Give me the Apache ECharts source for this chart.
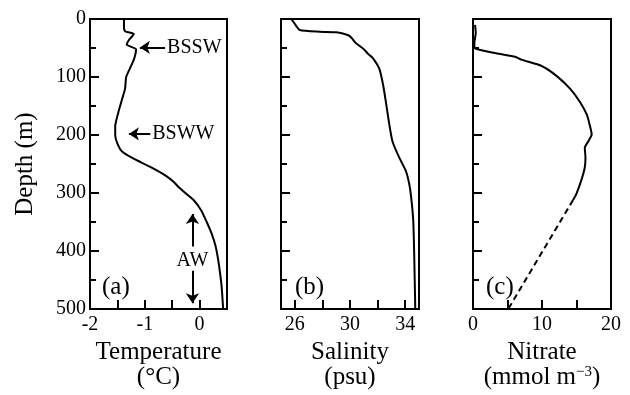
<!DOCTYPE html>
<html>
<head>
<meta charset="utf-8">
<script src="https://cdn.jsdelivr.net/npm/echarts@6/dist/echarts.min.js"></script>
<style>
  body { margin: 0; background: #fff; }
  #profiles { width: 630px; height: 395px; }
</style>
</head>
<body>
<div id="profiles"></div>
<script>
// temperature profile (°C vs depth m)
let temp_depth = [0, 13, 21, 26, 35, 44, 52, 60, 70, 85, 100, 120, 140, 160, 185, 200, 215, 228, 240, 255, 270, 281, 290, 300, 312, 330, 352, 370, 391, 410, 425, 459, 500];
let temp_vals  = [-1.38, -1.38, -1.36, -1.20, -1.28, -1.33, -1.16, -1.17, -1.20, -1.27, -1.34, -1.36, -1.42, -1.48, -1.54, -1.54, -1.50, -1.42, -1.22, -0.90, -0.62, -0.47, -0.38, -0.26, -0.11, 0.03, 0.14, 0.22, 0.29, 0.33, 0.355, 0.40, 0.43];

// salinity profile (psu)
let sal_depth = [0, 10, 19, 22, 23, 26, 29, 35, 41, 52, 61, 67, 86, 115, 143, 182, 211, 239, 262, 284, 305, 346, 403, 500];
let sal_vals  = [25.75, 26.05, 26.36, 27.8, 29.0, 29.6, 29.96, 30.2, 30.4, 31.0, 31.35, 31.64, 32.13, 32.41, 32.6, 32.85, 33.08, 33.57, 34.05, 34.29, 34.42, 34.58, 34.65, 34.73];

// nitrate profile (mmol m-3), measured part and dashed extrapolation
let no3_depth = [10, 24, 41, 50, 55, 60, 65, 70, 81, 98, 120, 143, 165, 185, 199, 211, 222, 239, 256, 276, 301, 312];
let no3_vals  = [0.3, 0.4, 0.2, 0.2, 1.7, 3.7, 6.1, 7.0, 9.95, 12.1, 14.06, 15.5, 16.5, 16.96, 17.2, 16.7, 16.2, 16.3, 16.2, 15.75, 15.0, 14.5];
let no3_ext_depth = [312, 500];
let no3_ext_vals  = [14.5, 5.1];

// water mass labels
let mass_names = ['BSSW', 'BSWW', 'AW'];

let font = 'Liberation Serif';

function pairs(xs, ys) {
    let out = [];
    for (let i = 0; i < xs.length; i++) {
        out.push([xs[i], ys[i]]);
    }
    return out;
}

function depthAxis(idx, withLabels) {
    return {
        type: 'value',
        gridIndex: idx,
        inverse: true,
        min: 0,
        max: 500,
        interval: 100,
        name: withLabels ? 'Depth (m)' : '',
        nameLocation: 'middle',
        nameGap: 52,
        nameTextStyle: { fontFamily: font, fontSize: 25, color: '#000' },
        axisLine: { show: true, onZero: false, lineStyle: { color: '#000', width: 2 } },
        axisTick: { show: true, inside: true, length: 9, lineStyle: { color: '#000', width: 2 } },
        minorTick: { show: true, splitNumber: 2, length: 6, lineStyle: { color: '#000', width: 2 } },
        axisLabel: { show: withLabels, fontFamily: font, fontSize: 20, color: '#000', margin: 4 },
        splitLine: { show: false }
    };
}

let axisCommon = {
    nameLocation: 'middle',
    nameGap: 30,
    axisLine: { show: true, onZero: false, lineStyle: { color: '#000', width: 2 } },
    axisTick: { show: true, inside: true, length: 9, lineStyle: { color: '#000', width: 2 } },
    splitLine: { show: false }
};

let nameStyle = {
    fontFamily: font,
    fontSize: 25,
    color: '#000',
    lineHeight: 25,
    rich: {
        sup: { fontFamily: font, fontSize: 15, color: '#000', verticalAlign: 'top', lineHeight: 16 }
    }
};

let labelStyle = { fontFamily: font, fontSize: 20, color: '#000', margin: 6 };

let chart = echarts.init(document.getElementById('profiles'));

let option = {
    animation: false,
    backgroundColor: '#fff',
    grid: [
        { left: 90, top: 19, width: 137, height: 295, show: true, borderColor: '#000', borderWidth: 2 },
        { left: 281, top: 19, width: 138, height: 295, show: true, borderColor: '#000', borderWidth: 2 },
        { left: 473, top: 19, width: 138, height: 295, show: true, borderColor: '#000', borderWidth: 2 }
    ],
    xAxis: [
        Object.assign({}, axisCommon, {
            type: 'value', gridIndex: 0, min: -2, max: 0.5, interval: 0.5,
            name: 'Temperature\n(°C)', nameTextStyle: nameStyle,
            axisLabel: Object.assign({}, labelStyle, {
                formatter: function (v) { return Number.isInteger(v) && v <= 0 ? String(v) : ''; }
            })
        }),
        Object.assign({}, axisCommon, {
            type: 'value', gridIndex: 1, min: 25, max: 35,
            name: 'Salinity\n(psu)', nameTextStyle: nameStyle,
            axisTick: Object.assign({}, axisCommon.axisTick, { customValues: [26, 28, 30, 32, 34] }),
            axisLabel: Object.assign({}, labelStyle, { customValues: [26, 30, 34] })
        }),
        Object.assign({}, axisCommon, {
            type: 'value', gridIndex: 2, min: 0, max: 20, interval: 5,
            name: 'Nitrate\n(mmol m{sup|−3})', nameTextStyle: nameStyle,
            axisLabel: Object.assign({}, labelStyle, {
                formatter: function (v) { return v % 10 === 0 ? String(v) : ''; }
            })
        })
    ],
    yAxis: [depthAxis(0, true), depthAxis(1, false), depthAxis(2, false)],
    graphic: [
        { type: 'text', left: 102, top: 275, style: { text: '(a)', font: '25px "Liberation Serif"', fill: '#000' } },
        { type: 'text', left: 295, top: 275, style: { text: '(b)', font: '25px "Liberation Serif"', fill: '#000' } },
        { type: 'text', left: 486, top: 275, style: { text: '(c)', font: '25px "Liberation Serif"', fill: '#000' } }
    ],
    series: [
        {
            name: 'Temperature',
            type: 'line',
            xAxisIndex: 0,
            yAxisIndex: 0,
            data: pairs(temp_vals, temp_depth),
            showSymbol: false,
            smooth: 0.2,
            lineStyle: { color: '#000', width: 2 },
            markLine: {
                silent: true,
                symbol: ['none', 'arrow'],
                symbolSize: 10,
                lineStyle: { color: '#000', width: 2, type: 'solid' },
                label: {
                    show: true, position: 'start', distance: 2,
                    fontFamily: font, fontSize: 20, color: '#000'
                },
                data: [
                    [{ coord: [-0.63, 49], label: { formatter: mass_names[0] } }, { coord: [-1.09, 49] }],
                    [{ coord: [-0.90, 198], label: { formatter: mass_names[1] } }, { coord: [-1.29, 198] }],
                    [{ coord: [-0.13, 392], label: { formatter: mass_names[2], distance: 4 } }, { coord: [-0.13, 336] }],
                    [{ coord: [-0.13, 434], label: { show: false } }, { coord: [-0.13, 490] }]
                ]
            }
        },
        {
            name: 'Salinity',
            type: 'line',
            xAxisIndex: 1,
            yAxisIndex: 1,
            data: pairs(sal_vals, sal_depth),
            showSymbol: false,
            smooth: 0.2,
            lineStyle: { color: '#000', width: 2 }
        },
        {
            name: 'Nitrate',
            type: 'line',
            xAxisIndex: 2,
            yAxisIndex: 2,
            data: pairs(no3_vals, no3_depth),
            showSymbol: false,
            smooth: 0.2,
            lineStyle: { color: '#000', width: 2 }
        },
        {
            name: 'Nitrate extrapolated',
            type: 'line',
            xAxisIndex: 2,
            yAxisIndex: 2,
            data: pairs(no3_ext_vals, no3_ext_depth),
            showSymbol: false,
            lineStyle: { color: '#000', width: 2, type: [6, 4] }
        }
    ]
};

chart.setOption(option);
</script>
</body>
</html>
